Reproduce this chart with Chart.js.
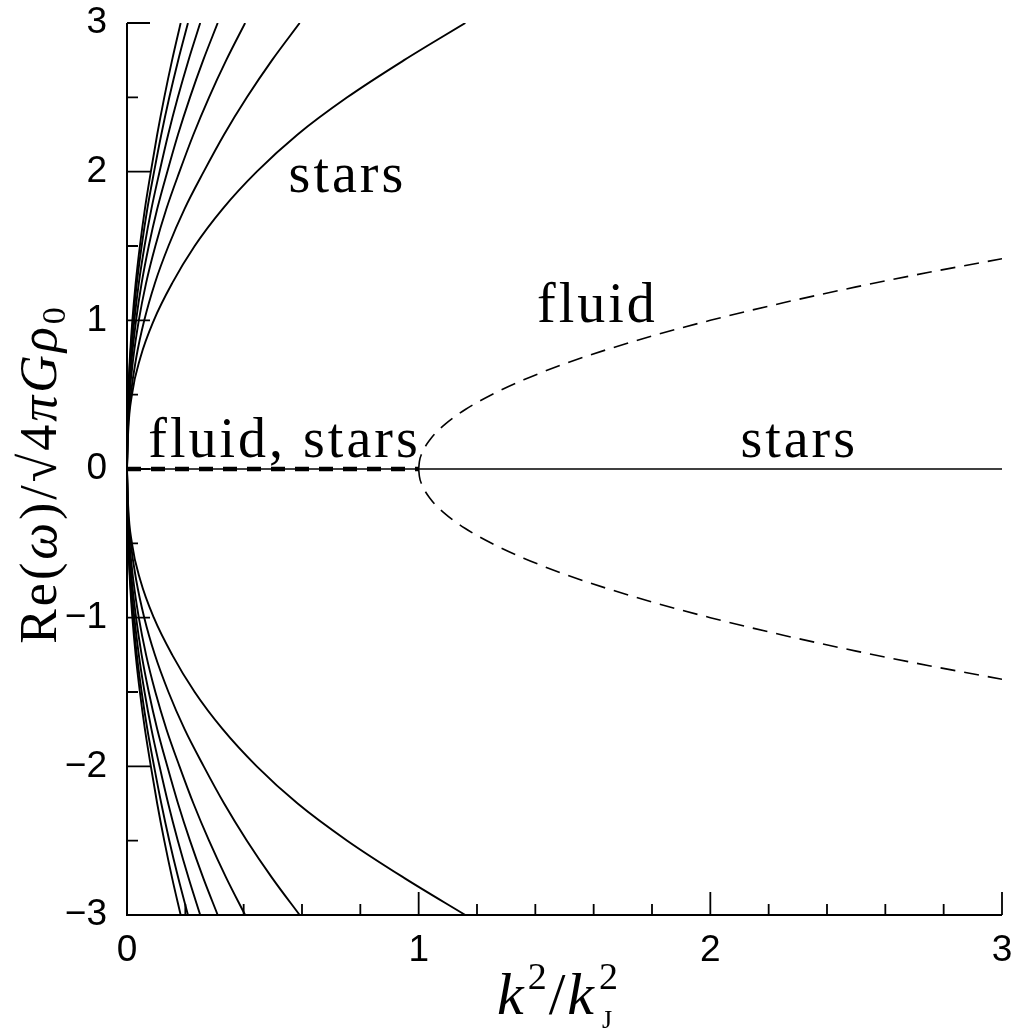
<!DOCTYPE html>
<html>
<head>
<meta charset="utf-8">
<script src="https://cdn.jsdelivr.net/npm/chart.js@4.4.1/dist/chart.umd.min.js"></script>
<style>
  body { margin: 0; background: #fff; }
  #wrap { width: 1014px; height: 1035px; position: relative; }
</style>
</head>
<body>
<div id="wrap"><canvas id="jeansChart"></canvas></div>
<script>
// Re(omega) levels shared by the stellar branches
const starLevels = [0, 0.25, 0.5, 0.75, 1, 1.25, 1.5, 1.75, 2, 2.25, 2.5, 2.75, 3];

// k^2/kJ^2 where each stellar branch reaches those levels
const starsA = [0, 0.0009, 0.0041, 0.0099, 0.0184, 0.0297, 0.0442, 0.0614, 0.0818, 0.1035, 0.1278, 0.1546, 0.184];
const starsB = [0, 0.0010, 0.0046, 0.0112, 0.0209, 0.0337, 0.0502, 0.0697, 0.0929, 0.1176, 0.1451, 0.1756, 0.209];
const starsC = [0, 0.0012, 0.0056, 0.0135, 0.0251, 0.0405, 0.0602, 0.0837, 0.1116, 0.1412, 0.1743, 0.2109, 0.251];
const starsD = [0, 0.0015, 0.0069, 0.0167, 0.0311, 0.0502, 0.0746, 0.1037, 0.1382, 0.1749, 0.2160, 0.2613, 0.311];
const starsE = [0, 0.0020, 0.0090, 0.0218, 0.0405, 0.0654, 0.0972, 0.1351, 0.1800, 0.2278, 0.2813, 0.3403, 0.405];
const starsF = [0, 0.0029, 0.0132, 0.0318, 0.0592, 0.0956, 0.1421, 0.1974, 0.2631, 0.3330, 0.4111, 0.4974, 0.592];
const starsG = [0, 0.004, 0.017, 0.046, 0.092, 0.155, 0.232, 0.328, 0.445, 0.585, 0.755, 0.95, 1.16];
const starBranches = [starsA, starsB, starsC, starsD, starsE, starsF, starsG];

// fluid branch beyond the Jeans point
const fluidX = [1, 1.0025, 1.01, 1.04, 1.09, 1.16, 1.25, 1.36, 1.49, 1.64, 1.81, 2, 2.25, 2.5, 2.75, 3];
const fluidY = [0, 0.05, 0.1, 0.2, 0.3, 0.4, 0.5, 0.6, 0.7, 0.8, 0.9, 1.0, 1.118, 1.225, 1.323, 1.414];

// zero-frequency lines
const zeroStarsX = [0, 3];
const zeroFluidX = [0, 1];

// axis ticks
const xMajorTicks = [0, 1, 2, 3];
const xMinorTicks = [0.2, 0.4, 0.6, 0.8, 1.2, 1.4, 1.6, 1.8, 2.2, 2.4, 2.6, 2.8];
const yMajorTicks = [-3, -2, -1, 0, 1, 2, 3];
const yMinorTicks = [-2.5, -1.5, -0.5, 0.5, 1.5, 2.5];

// text labels: [text, x, y] (left edge, baseline)
const regionLabels = [
    ['stars', 0.554, 1.86],
    ['fluid', 1.406, 0.99],
    ['fluid, stars', 0.073, 0.083],
    ['stars', 2.103, 0.083]
];

const datasets = [];

function solidLine(points, width) {
    return {
        data: points,
        showLine: true,
        borderColor: '#000',
        borderWidth: width,
        pointRadius: 0,
        fill: false,
        cubicInterpolationMode: 'monotone'
    };
}

starBranches.forEach(xs => {
    datasets.push(solidLine(xs.map((x, i) => ({ x: x, y: starLevels[i] })), 1.9));
    datasets.push(solidLine(xs.map((x, i) => ({ x: x, y: -starLevels[i] })), 1.9));
});

datasets.push(solidLine(zeroStarsX.map(x => ({ x: x, y: 0 })), 1.6));

const fluidUp = solidLine(fluidX.map((x, i) => ({ x: x, y: fluidY[i] })), 1.6);
fluidUp.borderDash = [15, 9];
const fluidDown = solidLine(fluidX.map((x, i) => ({ x: x, y: -fluidY[i] })), 1.6);
fluidDown.borderDash = [15, 9];
datasets.push(fluidUp, fluidDown);

const fluidZero = solidLine(zeroFluidX.map(x => ({ x: x, y: 0 })), 4.5);
fluidZero.borderDash = [14, 10];
fluidZero.borderCapStyle = 'butt';
datasets.push(fluidZero);

const axesAndText = {
    id: 'axesAndText',
    afterDraw(chart) {
        const ctx = chart.ctx;
        const area = chart.chartArea;
        const xs = chart.scales.x;
        const ys = chart.scales.y;
        ctx.save();
        ctx.strokeStyle = '#000';
        ctx.fillStyle = '#000';
        ctx.lineWidth = 2;
        ctx.beginPath();
        ctx.moveTo(area.left, area.top);
        ctx.lineTo(area.left, area.bottom);
        ctx.lineTo(area.right, area.bottom);
        ctx.stroke();

        ctx.lineWidth = 1.8;
        ctx.beginPath();
        xMajorTicks.forEach(v => {
            const p = xs.getPixelForValue(v);
            ctx.moveTo(p, area.bottom); ctx.lineTo(p, area.bottom - 23);
        });
        xMinorTicks.forEach(v => {
            const p = xs.getPixelForValue(v);
            ctx.moveTo(p, area.bottom); ctx.lineTo(p, area.bottom - 11);
        });
        yMajorTicks.forEach(v => {
            const p = ys.getPixelForValue(v);
            ctx.moveTo(area.left, p); ctx.lineTo(area.left + 23, p);
        });
        yMinorTicks.forEach(v => {
            const p = ys.getPixelForValue(v);
            ctx.moveTo(area.left, p); ctx.lineTo(area.left + 11, p);
        });
        ctx.stroke();

        // region labels
        ctx.font = '56px "Liberation Serif"';
        ctx.letterSpacing = '3px';
        ctx.textAlign = 'left';
        ctx.textBaseline = 'alphabetic';
        regionLabels.forEach(l => {
            ctx.fillText(l[0], xs.getPixelForValue(l[1]), ys.getPixelForValue(l[2]));
        });

        // y title, rotated
        const yParts = [
            ['Re(', '52px "Liberation Serif"', 0],
            ['ω', 'italic 52px "Liberation Serif"', 0],
            [')/', '52px "Liberation Serif"', 0],
            ['√', '52px "Liberation Serif"', 0],
            ['4', '52px "Liberation Serif"', 0],
            ['π', 'italic 52px "Liberation Serif"', 0],
            ['G', 'italic 52px "Liberation Serif"', 0],
            ['ρ', 'italic 52px "Liberation Serif"', 0],
            ['0', '34px "Liberation Serif"', 9]
        ];
        ctx.letterSpacing = '3px';
        let total = 0;
        yParts.forEach(p => { ctx.font = p[1]; total += ctx.measureText(p[0]).width; });
        ctx.translate(56, 474);
        ctx.rotate(-Math.PI / 2);
        let cx = -total / 2;
        yParts.forEach(p => {
            ctx.font = p[1];
            ctx.fillText(p[0], cx, p[2]);
            cx += ctx.measureText(p[0]).width;
        });
        ctx.setTransform(1, 0, 0, 1, 0, 0);

        // x title k^2/k_J^2
        ctx.letterSpacing = '0px';
        const base = 1014;
        let tx = 497;
        ctx.font = 'italic 60px "Liberation Serif"';
        ctx.fillText('k', tx, base); tx += ctx.measureText('k').width + 4;
        ctx.font = '38px "Liberation Serif"';
        ctx.fillText('2', tx, base - 25); tx += ctx.measureText('2').width + 2;
        ctx.font = '60px "Liberation Serif"';
        ctx.fillText('/', tx, base); tx += ctx.measureText('/').width + 2;
        ctx.font = 'italic 60px "Liberation Serif"';
        ctx.fillText('k', tx, base); tx += ctx.measureText('k').width + 5;
        ctx.font = '38px "Liberation Serif"';
        ctx.fillText('2', tx, base - 25);
        ctx.font = '26px "Liberation Serif"';
        ctx.fillText('J', tx + 3, base + 14);
        ctx.restore();
    }
};

new Chart(document.getElementById('jeansChart').getContext('2d'), {
    type: 'scatter',
    data: { datasets: datasets },
    options: {
        responsive: true,
        maintainAspectRatio: false,
        animation: false,
        events: [],
        layout: { padding: { top: 23, right: 12, left: 0, bottom: 0 } },
        plugins: { legend: { display: false }, tooltip: { enabled: false } },
        scales: {
            x: {
                type: 'linear',
                min: 0,
                max: 3,
                afterFit: s => { s.height = 120; s.paddingLeft = 0; s.paddingRight = 0; },
                afterBuildTicks: s => { s.ticks = xMajorTicks.map(v => ({ value: v })); },
                grid: { display: false, drawTicks: false },
                border: { display: false },
                ticks: {
                    padding: 14,
                    color: '#000',
                    font: { family: 'Liberation Sans', size: 37 },
                    maxRotation: 0,
                    callback: v => String(v)
                }
            },
            y: {
                type: 'linear',
                min: -3,
                max: 3,
                afterFit: s => { s.width = 127; s.paddingTop = 0; s.paddingBottom = 0; },
                afterBuildTicks: s => { s.ticks = yMajorTicks.map(v => ({ value: v })); },
                grid: { display: false, drawTicks: false },
                border: { display: false },
                ticks: {
                    padding: 20,
                    color: '#000',
                    font: { family: 'Liberation Sans', size: 37 },
                    callback: v => (v < 0 ? '\u2212' + Math.abs(v) : String(v))
                }
            }
        }
    },
    plugins: [axesAndText]
});
</script>
</body>
</html>
